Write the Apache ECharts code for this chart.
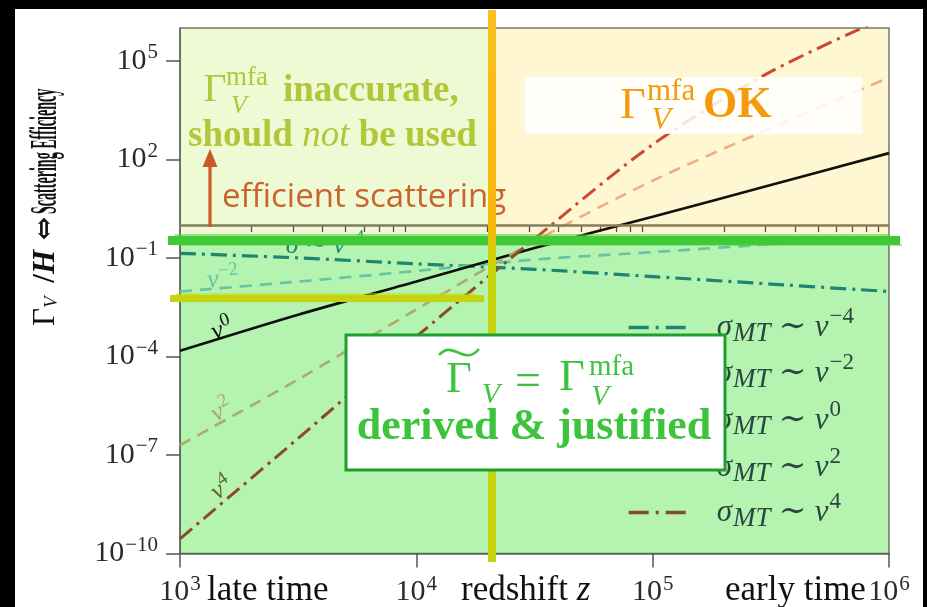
<!DOCTYPE html>
<html><head><meta charset="utf-8">
<script src="https://cdn.jsdelivr.net/npm/echarts@6/dist/echarts.min.js"></script>
<style>html,body{margin:0;padding:0;background:#000;} #c{width:927px;height:607px;}</style>
</head><body><div id="c"></div>
<script>
// ---- data ----
const redshiftZ = [1e3, 3.16e3, 1e4, 3.16e4, 1e5, 3.16e5, 1e6];
const gammaVm4 = [1.38e-1, 1.0e-1, 6.6e-2, 4.5e-2, 2.7e-2, 1.6e-2, 9.5e-3];
const gammaVm2 = [9.5e-3, 1.9e-2, 4.0e-2, 8.9e-2, 1.5e-1, 2.6e-1, 4.2e-1];
const gammaV0  = [1.48e-4, 1.86e-3, 1.9e-2, 2.0e-1, 1.78, 16.6, 155];
const gammaV2  = [2.0e-7, 2.0e-5, 2.7e-3, 3.2e-1, 22.4, 891, 3.09e4];
const gammaV4  = [2.8e-10, 3.2e-7, 4.0e-4, 3.8e-1, 282, 4.68e4, 2.34e6];
const seriesNames = ['vm4', 'vm2', 'v0', 'v2', 'v4'];
const powerLabels = ['−4', '−2', '0', '2', '4'];
const xTickExps = [3, 4, 5, 6];
const yTickExps = [-10, -7, -4, -1, 2, 5];
const minorMultipliers = [2, 3, 4, 5, 6, 7, 8, 9];
const minorDecades = [3, 4, 5];
const regionZ = [1e3, 2.05e4, 1e6];
const regionGamma = [1e-10, 0.35, 1e6];
const thresholdGamma = 1;

// ---- styles ----
const SERIF = '"Liberation Serif","DejaVu Serif",serif';
const lg = Math.log10;
const lineStyles = [
  {color: '#2a8aa8', type: [16, 6, 3, 6], width: 3.2},
  {color: '#90ccee', type: [12, 8], width: 2.6},
  {color: '#111111', type: 'solid', width: 2.6},
  {color: '#f0b49c', type: [12, 8], width: 2.6},
  {color: '#c84d3b', type: [16, 6, 3, 6], width: 3.0}
];
const legendIconColors = ['#2a8aa8', '#90ccee', '#111111', '#f0b49c', '#b8503a'];
const legendDash = [[20, 7, 3, 7], [12, 8], 'solid', [12, 8], [20, 7, 3, 7]];
const legendCenters = [327, 373, 420, 467, 512];
const overlayColors = ['#b4f4b0', '#eefad4', '#fef7d2'];
const allVals = [gammaVm4, gammaVm2, gammaV0, gammaV2, gammaV4];

function pts(vals) { return redshiftZ.map((z, i) => [lg(z), lg(vals[i])]); }
function fmtExp(v) { return v < 0 ? '−' + (-v) : String(v); }

const minorTicks = [];
minorDecades.forEach(d => minorMultipliers.forEach(m => minorTicks.push(lg(m) + d)));

const regionData = [
  [lg(regionZ[0]), lg(regionZ[2]), lg(regionGamma[0]), lg(regionGamma[1]), 0],
  [lg(regionZ[0]), lg(regionZ[1]), lg(regionGamma[1]), lg(regionGamma[2]), 1],
  [lg(regionZ[1]), lg(regionZ[2]), lg(regionGamma[1]), lg(regionGamma[2]), 2]
];

const axisRich = {
  b: {fontSize: 30, fontFamily: SERIF, color: '#2a2a2a'},
  e: {fontSize: 21, fontFamily: SERIF, color: '#2a2a2a', padding: [0, 0, 16, 1]}
};

const series = seriesNames.map((n, i) => ({
  name: n, type: 'line', data: pts(allVals[i]), symbol: 'none', smooth: 0.3,
  lineStyle: lineStyles[i], itemStyle: {opacity: 0}, z: 2, silent: true, clip: true,
  markLine: i === 2 ? {
    symbol: 'none', silent: true, label: {show: false},
    lineStyle: {color: '#8a8070', width: 2.5, type: 'solid'},
    data: [{yAxis: lg(thresholdGamma)}]
  } : undefined
}));

series.push({
  type: 'custom', z: 5, silent: true, clip: false, blendMode: 'multiply',
  xAxisIndex: 0, yAxisIndex: 0,
  data: regionData,
  renderItem: function (params, api) {
    const a = api.coord([api.value(0), api.value(3)]);
    const b = api.coord([api.value(1), api.value(2)]);
    return {type: 'rect', shape: {x: a[0], y: a[1], width: b[0] - a[0], height: b[1] - a[1]},
      style: {fill: overlayColors[api.value(4)], blend: 'multiply'}};
  }
});

const LEG = '#3a4a5a';
const legends = seriesNames.map((n, i) => ({
  data: [n], left: 627, top: legendCenters[i] - 22, padding: 0,
  itemWidth: 63, itemHeight: 14, selectedMode: false,
  itemStyle: {opacity: 0},
  lineStyle: {color: legendIconColors[i], width: 3.4, type: legendDash[i]},
  formatter: () => `{gap| }{s|σ}{sub|MT}{t| ∼ }{v|v}{p|${powerLabels[i]}}`,
  textStyle: {
    color: LEG,
    rich: {
      gap: {width: 20},
      s: {fontFamily: SERIF, fontStyle: 'italic', fontSize: 31, color: LEG},
      sub: {fontFamily: SERIF, fontStyle: 'italic', fontSize: 27, color: LEG, padding: [13, 0, 0, 1]},
      t: {fontFamily: SERIF, fontSize: 33, color: LEG},
      v: {fontFamily: SERIF, fontStyle: 'italic', fontSize: 31, color: LEG},
      p: {fontFamily: SERIF, fontSize: 23, color: LEG, padding: [0, 0, 22, 1]}
    }
  }
}));

function txt(x, y, text, font, fill, z) {
  return {type: 'text', x: x, y: y, z: z, silent: true,
    style: {text: text, font: font, fill: fill, align: 'left', textAlign: 'left',
      verticalAlign: 'middle', textVerticalAlign: 'middle'}};
}
function center(el) { el.style.align = 'center'; el.style.textAlign = 'center'; return el; }
function richTxt(x, y, text, rich, z, opts) {
  return Object.assign({type: 'text', x: x, y: y, z: z, silent: true,
    style: {text: text, rich: rich, align: (opts && opts.align) || 'left', textAlign: (opts && opts.align) || 'left',
      verticalAlign: 'middle', textVerticalAlign: 'middle'}}, (opts && opts.el) || {});
}

const C_WARN = '#b2c63a';
const C_OK = '#f59a0c';
const C_GOOD = '#3cc43c';
const C_ARROW = '#c85a25';

function powLabel(x, y, rot, color, pw) {
  return richTxt(x, y, `{v|ν}{p|${pw}}`, {
    v: {font: 'italic 26px ' + SERIF, fill: color},
    p: {font: '19px ' + SERIF, fill: color, padding: [0, 0, 16, 0]}
  }, 3, {align: 'center', el: {rotation: rot}});
}

const graphics = [
  // page
  {type: 'rect', z: -10, silent: true, shape: {x: 15, y: 9, width: 908, height: 598}, style: {fill: '#ffffff'}},
  // y title
  richTxt(46, 326, '{g|Γ}{sub|V}{n| /}{h|H}{a| ⇔}', {
    g: {font: '31px ' + SERIF, fill: '#111'},
    sub: {font: 'italic 19px ' + SERIF, fill: '#111', padding: [12, 0, 0, 0]},
    n: {font: 'bold 31px ' + SERIF, fill: '#111', padding: [0, 0, 0, 6]},
    h: {font: 'italic bold 31px ' + SERIF, fill: '#111'},
    a: {font: 'bold 28px "DejaVu Serif"', fill: '#111'}
  }, 1, {el: {rotation: Math.PI / 2}}),
  {type: 'text', x: 46, y: 214, rotation: Math.PI / 2, scaleX: 0.37, z: 1, silent: true,
    style: {text: 'Scattering Efficiency', font: 'bold 38px ' + SERIF, fill: '#111', align: 'left', textAlign: 'left', verticalAlign: 'middle', textVerticalAlign: 'middle'}},
  // x texts
  txt(207, 591, 'late time', '35px ' + SERIF, '#111', 1),
  richTxt(461, 591, '{a|redshift }{b|z}', {a: {font: '35px ' + SERIF, fill: '#111'}, b: {font: 'italic 35px ' + SERIF, fill: '#111'}}, 1),
  txt(725, 591, 'early time', '35px ' + SERIF, '#111', 1),
  // line labels (under the overlay)
  powLabel(223, 279, 0.1, lineStyles[1].color, '−2'),
  powLabel(222, 330, 0.35, '#111', '0'),
  powLabel(222, 411, 0.5, lineStyles[3].color, '2'),
  powLabel(222, 489, 0.6, '#8c6a30', '4'),
  richTxt(325, 246, '{s|σ ∼ }{v|v}{p|−4}', {
    s: {font: 'italic 26px ' + SERIF, fill: lineStyles[0].color},
    v: {font: 'italic 26px ' + SERIF, fill: lineStyles[0].color},
    p: {font: '18px ' + SERIF, fill: lineStyles[0].color, padding: [0, 0, 16, 0]}
  }, 3, {align: 'center'}),
  // top-left annotation
  center(txt(215, 90, 'Γ', '40px ' + SERIF, C_WARN, 20)),
  txt(226, 78, 'mfa', '27px ' + SERIF, C_WARN, 20),
  center(txt(239, 106, 'V', 'italic 26px ' + SERIF, C_WARN, 20)),
  txt(283, 91, 'inaccurate,', 'bold 37px ' + SERIF, C_WARN, 20),
  richTxt(188, 136, '{b|should }{i|not}{b| be used}', {b: {font: 'bold 37px ' + SERIF, fill: C_WARN}, i: {font: 'italic 37px ' + SERIF, fill: C_WARN}}, 20),
  // arrow
  {type: 'line', z: 20, silent: true, shape: {x1: 210, y1: 227, x2: 210, y2: 162}, style: {stroke: C_ARROW, lineWidth: 3.2}},
  {type: 'polygon', z: 20, silent: true, shape: {points: [[210, 149], [202.5, 167], [217.5, 167]]}, style: {fill: C_ARROW}},
  txt(222, 198, 'efficient scattering', '33px "Open Sans", Lato, sans-serif', '#c8642c', 20),
  // OK box
  {type: 'rect', z: 40, silent: true, shape: {x: 525, y: 77, width: 337, height: 57}, style: {fill: 'rgba(255,255,255,0.86)'}},
  center(txt(633, 106, 'Γ', '44px ' + SERIF, C_OK, 41)),
  txt(647, 92, 'mfa', '31px ' + SERIF, C_OK, 41),
  center(txt(661, 121, 'V', 'italic 32px ' + SERIF, C_OK, 41)),
  txt(703, 106, 'OK', 'bold 44px ' + SERIF, C_OK, 41),
  // strikes
  {type: 'rect', z: 30, silent: true, shape: {x: 168, y: 236, width: 732, height: 9}, style: {fill: '#3fc935'}},
  {type: 'rect', z: 30, silent: true, shape: {x: 175, y: 234, width: 715, height: 3}, style: {fill: 'rgba(70,205,60,0.55)'}},
  {type: 'rect', z: 30, silent: true, shape: {x: 182, y: 244, width: 720, height: 2}, style: {fill: 'rgba(70,205,60,0.45)'}},
  {type: 'rect', z: 31, silent: true, shape: {x: 170, y: 295, width: 314, height: 7}, style: {fill: '#c5d40c'}},
  {type: 'rect', z: 31, silent: true, shape: {x: 176, y: 293, width: 300, height: 2}, style: {fill: 'rgba(200,215,20,0.5)'}},
  {type: 'rect', z: 32, silent: true, shape: {x: 488, y: 10, width: 8, height: 552},
    style: {fill: new echarts.graphic.LinearGradient(0, 0, 0, 1, [
      {offset: 0, color: '#f9c020'}, {offset: 0.4, color: '#f6b70a'}, {offset: 0.43, color: '#d8cc08'},
      {offset: 0.47, color: '#c6d60c'}, {offset: 1, color: '#c3d40e'}])}},
  // derived & justified box
  {type: 'rect', z: 40, silent: true, shape: {x: 346, y: 335, width: 379, height: 135}, style: {fill: '#ffffff', stroke: '#1e9e2e', lineWidth: 3}},
  center(txt(459, 380, 'Γ', '44px ' + SERIF, C_GOOD, 41)),
  {type: 'bezierCurve', z: 41, silent: true, shape: {x1: 439, y1: 355, cpx1: 453, cpy1: 339, cpx2: 464, cpy2: 367, x2: 479, y2: 349}, style: {stroke: C_GOOD, lineWidth: 2.6, fill: null}},
  center(txt(491, 395, 'V', 'italic 30px ' + SERIF, C_GOOD, 41)),
  center(txt(528, 383, '=', '46px ' + SERIF, C_GOOD, 41)),
  center(txt(572, 378, 'Γ', '44px ' + SERIF, C_GOOD, 41)),
  txt(589, 367, 'mfa', '29px ' + SERIF, C_GOOD, 41),
  center(txt(600, 397, 'V', 'italic 29px ' + SERIF, C_GOOD, 41)),
  center(txt(534, 428, 'derived & justified', 'bold 44px ' + SERIF, C_GOOD, 41))
];

const option = {
  backgroundColor: '#000000',
  animation: false,
  grid: {left: 180, right: 38, top: 28, bottom: 50, show: true, borderColor: '#7a7a70', borderWidth: 1.5, backgroundColor: 'transparent'},
  xAxis: [
    {type: 'value', min: 3, max: 6, position: 'bottom',
      axisLine: {show: true, onZero: false, lineStyle: {color: '#666', width: 1.5}},
      axisTick: {show: true, length: 14, customValues: xTickExps, lineStyle: {color: '#555', width: 1.5}},
      axisLabel: {customValues: xTickExps, margin: 20, formatter: v => `{b|10}{e|${fmtExp(v)}}`, rich: axisRich},
      splitLine: {show: false}},
    {type: 'value', min: 3, max: 6, position: 'bottom',
      axisLine: {show: false},
      axisTick: {show: true, length: 7, customValues: minorTicks, lineStyle: {color: '#555', width: 1.3}},
      axisLabel: {show: false}, splitLine: {show: false}}
  ],
  yAxis: {type: 'value', min: -10, max: 6,
    axisLine: {show: true, onZero: false, lineStyle: {color: '#666', width: 1.5}},
    axisTick: {show: true, length: 14, customValues: yTickExps, lineStyle: {color: '#555', width: 1.5}},
    axisLabel: {customValues: yTickExps, margin: 22, formatter: v => `{b|10}{e|${fmtExp(v)}}`, rich: axisRich},
    splitLine: {show: false}},
  legend: legends,
  series: series,
  graphic: {elements: graphics}
};

const chart = echarts.init(document.getElementById('c'), null, {renderer: 'canvas'});
chart.setOption(option);
</script>
</body></html>
